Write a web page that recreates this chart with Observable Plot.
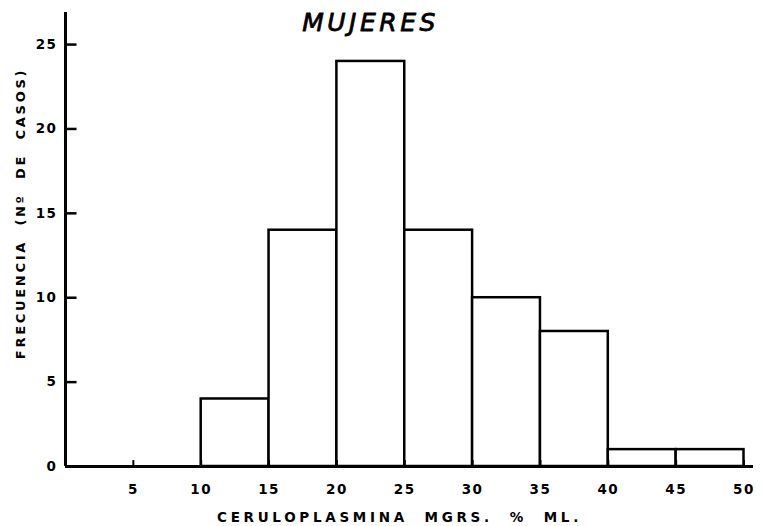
<!DOCTYPE html>
<html>
<head>
<meta charset="utf-8">
<script src="https://cdn.jsdelivr.net/npm/d3@7"></script>
<script src="https://cdn.jsdelivr.net/npm/@observablehq/plot@0.6"></script>
<style>
  html, body { margin: 0; padding: 0; background: #fff; }
  #chart svg { display: block; background: #fff; }
  #chart svg text { font-family: "DejaVu Sans", sans-serif; fill: #000; }
</style>
</head>
<body>
<div id="chart"></div>
<script>
// Data
const binStart = [10, 15, 20, 25, 30, 35, 40, 45];
const binEnd   = [15, 20, 25, 30, 35, 40, 45, 50];
const counts   = [4, 14, 24, 14, 10, 8, 1, 1];
const xTicks = [5, 10, 15, 20, 25, 30, 35, 40, 45, 50];
const yTicks = [0, 5, 10, 15, 20, 25];
const title = "MUJERES";
const xLabel = "CERULOPLASMINA  MGRS.  %  ML.";
const yLabel = "FRECUENCIA  (Nº  DE  CASOS)";

const bins = binStart.map((s, i) => ({x1: s, x2: binEnd[i], y: counts[i]}));

const chart = Plot.plot({
  width: 762,
  height: 526,
  marginLeft: 65,
  marginRight: 9,
  marginTop: 12,
  marginBottom: 60,
  x: {domain: [0, 50.7], axis: null},
  y: {domain: [0, 26.9], axis: null},
  marks: [
    Plot.rectY(bins, {x1: "x1", x2: "x2", y: "y", fill: "white", stroke: "black", strokeWidth: 2.5}),
    // y ticks (inward)
    Plot.ruleY(yTicks.slice(1), {y: d => d, x1: 0, x2: 0.85, stroke: "black", strokeWidth: 2.5}),
    // x ticks (inward, small)
    Plot.ruleX(xTicks, {x: d => d, y1: 0, y2: 0.35, stroke: "black", strokeWidth: 2}),
    // axis lines
    Plot.ruleY([0], {stroke: "black", strokeWidth: 3}),
    Plot.ruleX([0], {y1: 0, y2: 26.9, stroke: "black", strokeWidth: 3}),
    // tick labels
    Plot.text(yTicks, {x: 0, y: d => d, text: d => String(d), dx: -8, textAnchor: "end", fontSize: 13.5, fontWeight: "bold"}),
    Plot.text(xTicks, {x: d => d, y: 0, text: d => String(d), dy: 23, fontSize: 13.5, fontWeight: "bold"}),
    // title and axis labels
    Plot.text([title], {frameAnchor: "top", textAnchor: "middle", lineAnchor: "middle", dx: -39, dy: 10, text: d => d, fontSize: 25, fontStyle: "italic", fontWeight: "normal", fill: "black", stroke: "black", strokeWidth: 0.8}),
    Plot.text([xLabel], {frameAnchor: "bottom", textAnchor: "middle", lineAnchor: "middle", dx: -10, dy: 51, text: d => d, fontSize: 13.5, fontWeight: "bold"}),
    Plot.text([yLabel], {frameAnchor: "left", textAnchor: "middle", lineAnchor: "middle", dx: -45, dy: -26, rotate: -90, text: d => d, fontSize: 13, fontWeight: "bold"})
  ]
});
document.getElementById("chart").appendChild(chart);

// letter spacing tweaks
d3.select(chart).selectAll("text").each(function() {
  const t = this.textContent;
  const s = d3.select(this);
  if (t === title) s.style("letter-spacing", "3.5px");
  else if (t === xLabel) s.style("letter-spacing", "3.7px");
  else if (t === yLabel) s.style("letter-spacing", "2.7px");
  else s.style("letter-spacing", "1.5px");
});
</script>
</body>
</html>
